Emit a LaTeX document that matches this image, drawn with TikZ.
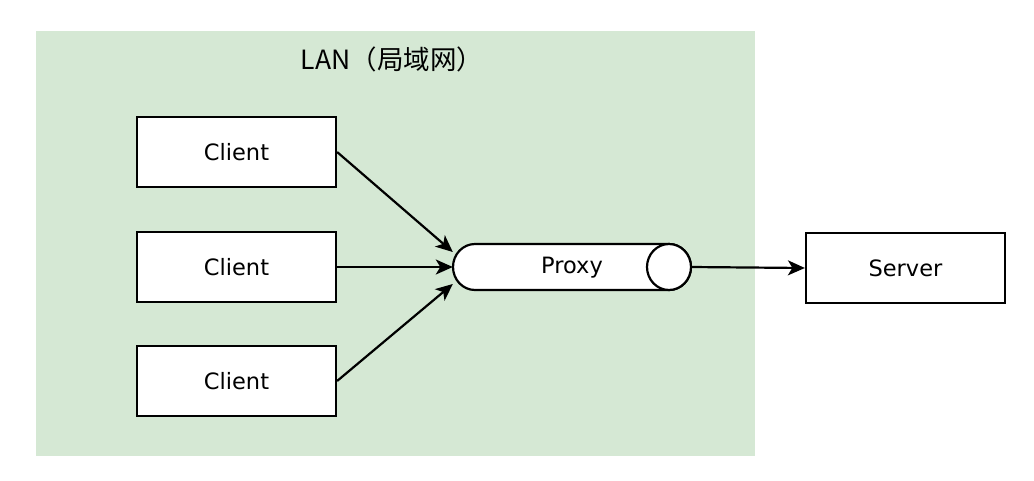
\documentclass[tikz,border=0pt]{standalone}
\usepackage{fontspec}
\setmainfont{DejaVu Sans}
\newfontfamily\cjk{Noto Sans CJK SC}
\usetikzlibrary{arrows.meta}
\definecolor{langreen}{HTML}{D5E8D4}
\tikzset{
  box/.style={draw=black, fill=white, line width=2.2pt, minimum width=199pt, minimum height=70pt, inner sep=0pt, font=\fontsize{22.5}{26}\selectfont},
  conn/.style={line width=2.2pt, -{Stealth[length=17pt,width=15pt,inset=4.5pt]}},
}
\begin{document}
\begin{tikzpicture}[x=1pt,y=-1pt]
\useasboundingbox (0,0) rectangle (1034,480);
\fill[langreen] (36,31) rectangle (755,456);
\node[font={\cjk\fontsize{26.5}{30}\selectfont}] (title) at (392,59) {LAN（局域网）};
\node[box] (c1) at (236.5,152) {Client};
\node[box] (c2) at (236.5,267) {Client};
\node[box] (c3) at (236.5,381) {Client};
\node[box] (server) at (905.5,268) {Server};
% proxy cylinder
\node[minimum width=238pt, minimum height=46pt, inner sep=0pt] (proxy) at (572,267) {};
\draw[line width=2.2pt, fill=white] (475,244) arc[start angle=90, end angle=270, x radius=22pt, y radius=23pt]
  -- (669,290) arc[start angle=270, end angle=450, x radius=22pt, y radius=23pt] -- cycle;
\draw[line width=2.2pt, fill=white] (669,267) ellipse[x radius=22pt, y radius=23pt];
\node[font=\fontsize{22.5}{26}\selectfont] (proxylabel) at (572,268) {Proxy};
\draw[conn] (c1.east) -- ([yshift=15pt]proxy.west);
\draw[conn] (c2.east) -- (proxy.west);
\draw[conn] (c3.east) -- ([yshift=-17pt]proxy.west);
\draw[conn] (proxy.east) -- (server.west);
\end{tikzpicture}
\end{document}
